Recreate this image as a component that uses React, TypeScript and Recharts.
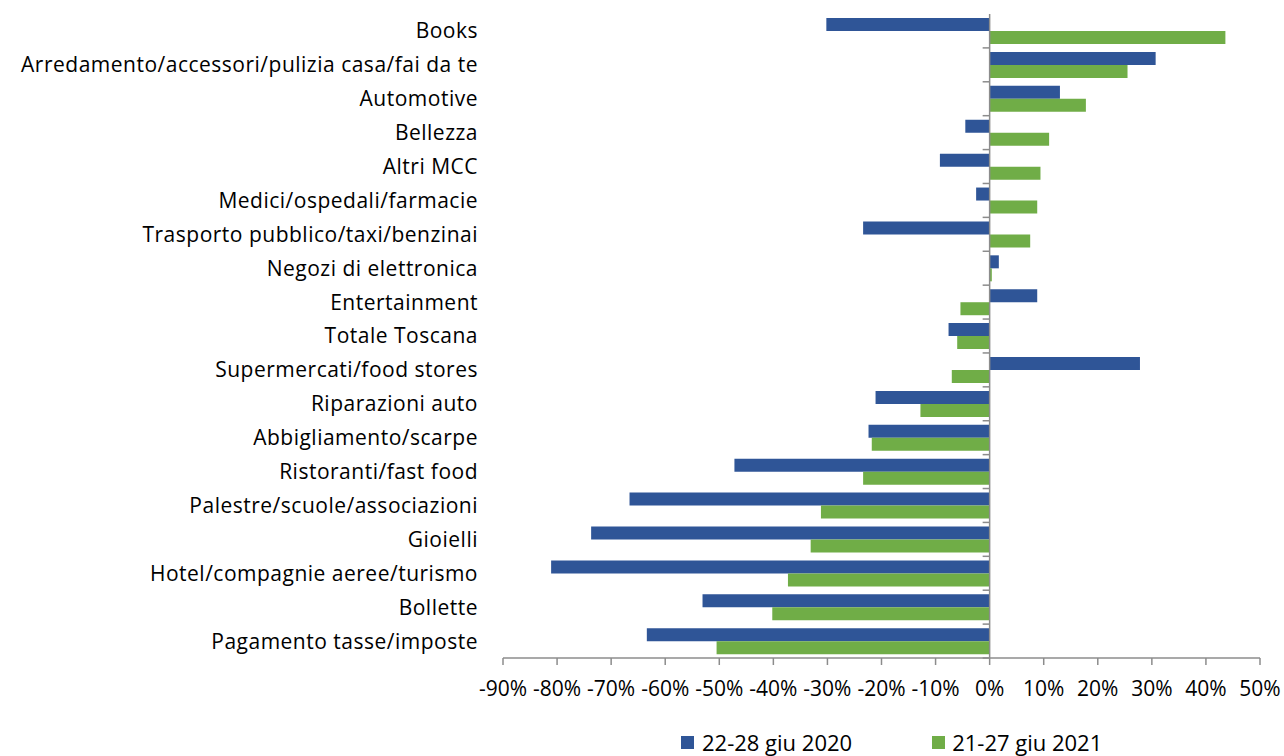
import React from 'react';
import { BarChart, Bar, XAxis, YAxis, ReferenceLine, Legend } from 'recharts';

const categories = [
    'Books',
    'Arredamento/accessori/pulizia casa/fai da te',
    'Automotive',
    'Bellezza',
    'Altri MCC',
    'Medici/ospedali/farmacie',
    'Trasporto pubblico/taxi/benzinai',
    'Negozi di elettronica',
    'Entertainment',
    'Totale Toscana',
    'Supermercati/food stores',
    'Riparazioni auto',
    'Abbigliamento/scarpe',
    'Ristoranti/fast food',
    'Palestre/scuole/associazioni',
    'Gioielli',
    'Hotel/compagnie aeree/turismo',
    'Bollette',
    'Pagamento tasse/imposte',
];

// variazioni percentuali
const week2020 = [-30.2, 30.7, 13.0, -4.5, -9.2, -2.5, -23.4, 1.7, 8.8, -7.6, 27.8, -21.1, -22.4, -47.2, -66.6, -73.7, -81.1, -53.1, -63.4];
const week2021 = [43.6, 25.5, 17.8, 11.0, 9.4, 8.8, 7.5, 0.4, -5.4, -6.0, -7.0, -12.8, -21.8, -23.4, -31.2, -33.1, -37.3, -40.2, -50.5];

const xTicks = [-90, -80, -70, -60, -50, -40, -30, -20, -10, 0, 10, 20, 30, 40, 50];

const seriesNames = ['22-28 giu 2020', '21-27 giu 2021'];
const BLUE = '#2F5597';
const GREEN = '#70AD47';
const AXIS = '#8C8C8C';
const FONT = '"Open Sans", "Noto Sans", sans-serif';

const data = categories.map((name, i) => ({
    name,
    v2020: week2020[i],
    v2021: week2021[i],
}));

// zero line with the category tick marks, like the excel axis
const ZeroAxis = (props: any) => {
    const { x1, y1, x2, y2 } = props;
    const n = categories.length;
    const step = (y2 - y1) / n;
    const marks = [];
    for (let i = 0; i < n; i++) {
        const y = y1 + i * step;
        marks.push(<line key={i} x1={x1 - 7} y1={y} x2={x1} y2={y} stroke={AXIS} strokeWidth={1.5} />);
    }
    return (
        <g>
            {marks}
            <line x1={x1} y1={y1} x2={x2} y2={y2} stroke={AXIS} strokeWidth={1.5} />
        </g>
    );
};

const CustomLegend = () => (
    <div style={{ boxSizing: 'border-box', display: 'flex', alignItems: 'center', height: 38, paddingTop: 10, paddingLeft: 681, fontFamily: FONT, fontSize: 22, color: '#000' }}>
        <span style={{ width: 13, height: 13, background: BLUE, display: 'inline-block', marginRight: 8 }} />
        <span style={{ marginRight: 80 }}>{seriesNames[0]}</span>
        <span style={{ width: 13, height: 13, background: GREEN, display: 'inline-block', marginRight: 7 }} />
        <span>{seriesNames[1]}</span>
    </div>
);

export default function App() {
    return (
        <div style={{ position: 'absolute', left: 0, top: 0, width: 1284, height: 756, background: '#fff', fontFamily: FONT }}>
            <BarChart
                width={1284}
                height={756}
                data={data}
                layout="vertical"
                margin={{ top: 14, right: 24, left: 0, bottom: 0 }}
                barGap={0}
                barCategoryGap="12%"
            >
                <XAxis
                    type="number"
                    domain={[-90, 50]}
                    ticks={xTicks}
                    tickFormatter={(v) => `${v}%`}
                    axisLine={{ stroke: AXIS, strokeWidth: 1.5 }}
                    tickLine={{ stroke: AXIS, strokeWidth: 1.5 }}
                    tickSize={7}
                    tickMargin={16}
                    tick={{ fill: '#000', fontSize: 21, fontFamily: FONT }}
                    height={60}
                    allowDataOverflow
                />
                <YAxis
                    type="category"
                    dataKey="name"
                    width={503}
                    axisLine={false}
                    tickLine={false}
                    tickSize={0}
                    tickMargin={25}
                    interval={0}
                    tick={{ fill: '#000', fontSize: 21, fontFamily: FONT, letterSpacing: 0.5 }}
                />
                <Legend verticalAlign="bottom" height={38} content={<CustomLegend />} />
                <Bar dataKey="v2020" name={seriesNames[0]} fill={BLUE} isAnimationActive={false} />
                <Bar dataKey="v2021" name={seriesNames[1]} fill={GREEN} isAnimationActive={false} />
                <ReferenceLine x={0} shape={<ZeroAxis />} />
            </BarChart>
        </div>
    );
}
